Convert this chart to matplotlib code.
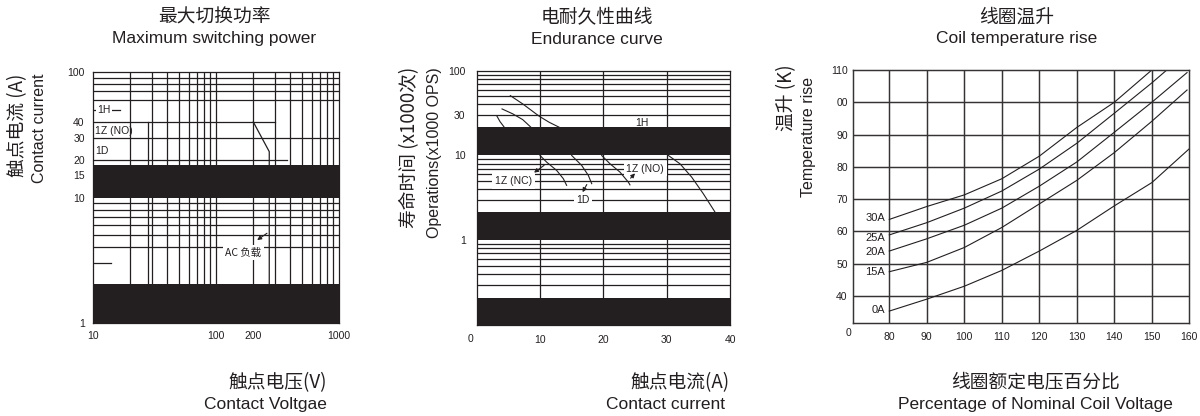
import matplotlib
matplotlib.use('Agg')
import matplotlib.pyplot as plt
from matplotlib.ticker import NullLocator

INK = '#231f20'
ZH = ['Noto Sans CJK SC', 'Liberation Sans', 'DejaVu Sans']
EN = ['Liberation Sans', 'DejaVu Sans']
plt.rcParams['font.family'] = EN

# ---- maximum switching power (log / log)
volt_ticks = [10, 100, 200, 1000]
amp_ticks = [1, 10, 15, 20, 30, 40, 100]
volt_grid = [20, 30, 40, 50, 60, 70, 80, 90, 100, 200, 300, 400, 500, 600, 700, 800, 900]
amp_grid = [4, 5, 6, 7, 8, 9, 30, 60, 70, 80, 90]
amp_bands = [(10, 18.2), (1, 2.05)]
h1_volt = [10, 16.5]
h1_amp = [50, 50]
z1_top_volt = [10, 300]
z1_top_amp = [40, 40]
z1_ac_volt = [201, 271, 271]
z1_ac_amp = [40, 23.2, 1]
z1_dc_volt = [28, 28]
z1_dc_amp = [40, 1]
d1_volt = [10, 380]
d1_amp = [20, 20]
stub_volt = [10, 14]
stub_amp = [3, 3]

# ---- endurance curve
ops_x_ticks = [10, 20, 30, 40]
ops_y_ticks = [1, 10, 30, 100]
ops_grid_x = [10, 20, 30]
ops_grid_y = [0.3, 0.4, 0.5, 0.6, 0.7, 0.8, 0.9,
              3, 4, 5, 6, 7, 8, 9,
              30, 40, 50, 60, 70, 80, 90]
ops_bands = [(10, 21.5), (1, 2.13), (0.1, 0.208)]
cur_a = [5.31, 7.26, 9.88, 11.46, 13.04]
ops_a = [50.8, 40.6, 29.0, 24.6, 21.5]
cur_b = [4.0, 5.68, 7.26, 8.57]
ops_b = [35.4, 31.0, 26.5, 21.5]
cur_c = [3.21, 3.68, 4.36]
ops_c = [29.0, 25.1, 21.5]
cur_d = [10.0, 11.05, 12.63, 13.68, 14.2]
ops_d = [10, 8.34, 6.66, 5.32, 4.44]
cur_e = [15.0, 16.58, 17.63, 18.16]
ops_e = [10, 7.63, 5.82, 4.65]
cur_f = [19.74, 21.05, 22.63, 23.94, 24.2]
ops_f = [10, 7.98, 6.36, 4.85, 4.5]
cur_g = [30.26, 32.1, 33.95, 35.78, 37.63]
ops_g = [10, 7.98, 5.55, 3.54, 2.15]

# ---- coil temperature rise
pct_ticks = [80, 90, 100, 110, 120, 130, 140, 150, 160]
rise_ticks = [40, 50, 60, 70, 80, 90, 100, 110]
rise_labels = ['40', '50', '60', '70', '80', '90', '00', '110']
pct_30a = [80, 90, 100, 110, 120, 130, 140, 150]
rise_30a = [63.7, 67.7, 71.3, 76.3, 83.3, 92.2, 100.0, 110.0]
pct_25a = [80, 90, 100, 110, 120, 130, 140, 150, 154]
rise_25a = [58.9, 62.7, 67.2, 72.5, 79.3, 87.3, 96.6, 106.0, 110.0]
pct_20a = [80, 90, 100, 110, 120, 130, 140, 150, 159.4]
rise_20a = [53.9, 57.7, 61.9, 67.2, 74.0, 81.5, 90.7, 100.0, 109.2]
pct_15a = [80, 90, 100, 110, 120, 130, 140, 150, 159.4]
rise_15a = [47.5, 50.4, 55.0, 61.2, 68.5, 75.8, 84.4, 94.1, 103.8]
pct_0a = [80, 90, 100, 110, 120, 130, 140, 150, 160]
rise_0a = [35.3, 39.0, 43.0, 47.9, 53.9, 60.3, 67.9, 75.1, 85.6]
load_names = ['30A', '25A', '20A', '15A', '0A']
load_label_y = [64.0, 58.0, 53.7, 47.5, 35.6]

W, H = 1200, 416
fig = plt.figure(figsize=(12, 4.16), dpi=100)


def px_axes(left, top, right, bottom):
    return fig.add_axes([left / W, 1 - bottom / H, (right - left) / W, (bottom - top) / H])


def ftext(x, y, s, **kw):
    fig.text(x / W, 1 - y / H, s, color=INK, **kw)


lw = 0.9

# ================= panel 1
ax1 = px_axes(93, 72, 339, 323)
ax1.set_xscale('log')
ax1.set_yscale('log')
ax1.set_xlim(10, 1000)
ax1.set_ylim(1, 100)
for v in volt_grid:
    ax1.axvline(v, color=INK, lw=lw, zorder=1)
for a in amp_grid:
    ax1.axhline(a, color=INK, lw=lw, zorder=1)
for lo, hi in amp_bands:
    ax1.axhspan(lo, hi, color=INK, lw=0, zorder=3)
ax1.plot(h1_volt, h1_amp, color=INK, lw=lw, zorder=2)
ax1.plot(z1_top_volt, z1_top_amp, color=INK, lw=lw, zorder=2)
ax1.plot(z1_ac_volt, z1_ac_amp, color=INK, lw=lw, zorder=2)
ax1.plot(z1_dc_volt, z1_dc_amp, color=INK, lw=lw, zorder=2)
ax1.plot(d1_volt, d1_amp, color=INK, lw=lw, zorder=2)
ax1.plot(stub_volt, stub_amp, color=INK, lw=lw, zorder=2)
ax1.text(12.3, 50, '1H', fontsize=7.5, color=INK, ha='center', va='center', zorder=4,
         bbox=dict(boxstyle='square,pad=0.15', fc='white', ec='none'))
ax1.text(14.8, 33.9, '1Z (NO)', fontsize=7.5, color=INK, ha='center', va='center', zorder=4)
ax1.text(11.9, 23.6, '1D', fontsize=7.5, color=INK, ha='center', va='center', zorder=4)
ax1.text(167, 3.63, 'AC 负载', fontsize=7.5, color=INK, ha='center', va='center', zorder=4,
         family=ZH, bbox=dict(boxstyle='square,pad=0.25', fc='white', ec='none'))
ax1.annotate('', xy=(207, 4.45), xytext=(271, 5.34), zorder=4,
             arrowprops=dict(arrowstyle='-|>', color=INK, lw=0.8, mutation_scale=6))
ax1.set_xticks(volt_ticks)
ax1.set_xticklabels([str(v) for v in volt_ticks])
ax1.set_yticks(amp_ticks)
ax1.set_yticklabels([str(a) for a in amp_ticks])
ax1.xaxis.set_minor_locator(NullLocator())
ax1.yaxis.set_minor_locator(NullLocator())
ax1.tick_params(length=0, labelsize=7.5, colors=INK)
ax1.tick_params(axis='x', pad=6)
ax1.tick_params(axis='y', pad=6)
for s in ax1.spines.values():
    s.set_color(INK)
    s.set_linewidth(lw)

# ================= panel 2
ax2 = px_axes(476.7, 70.7, 730, 325)
ax2.set_yscale('log')
ax2.set_xlim(0, 40)
ax2.set_ylim(0.1, 100)
for v in ops_grid_x:
    ax2.axvline(v, color=INK, lw=lw, zorder=1)
for o in ops_grid_y:
    ax2.axhline(o, color=INK, lw=lw, zorder=1)
for lo, hi in ops_bands:
    ax2.axhspan(lo, hi, color=INK, lw=0, zorder=3)
for cx, cy in [(cur_a, ops_a), (cur_b, ops_b), (cur_c, ops_c), (cur_d, ops_d),
               (cur_e, ops_e), (cur_f, ops_f), (cur_g, ops_g)]:
    ax2.plot(cx, cy, color=INK, lw=0.8, zorder=2)
box = dict(boxstyle='square,pad=0.25', fc='white', ec='none')
ax2.text(26.1, 24, '1H', fontsize=7.5, color=INK, ha='center', va='center', zorder=4)
ax2.text(5.8, 5.0, '1Z (NC)', fontsize=7.5, color=INK, ha='center', va='center', zorder=4, bbox=box)
ax2.text(16.8, 3.0, '1D', fontsize=7.5, color=INK, ha='center', va='center', zorder=4, bbox=box)
ax2.text(26.6, 7.0, '1Z (NO)', fontsize=7.5, color=INK, ha='center', va='center', zorder=4, bbox=box)
arw = dict(arrowstyle='-|>', color=INK, lw=0.8, mutation_scale=6)
ax2.annotate('', xy=(8.7, 6.0), xytext=(11.0, 8.0), arrowprops=arw, zorder=5)
ax2.annotate('', xy=(16.5, 3.45), xytext=(17.6, 4.85), arrowprops=arw, zorder=5)
ax2.annotate('', xy=(25.3, 6.5), xytext=(24.0, 5.1), arrowprops=arw, zorder=5)
ax2.set_xticks(ops_x_ticks)
ax2.set_xticklabels([str(v) for v in ops_x_ticks])
ax2.set_yticks(ops_y_ticks)
ax2.set_yticklabels([str(v) for v in ops_y_ticks])
ax2.yaxis.set_minor_locator(NullLocator())
ax2.tick_params(length=0, labelsize=7.5, colors=INK)
ax2.tick_params(axis='x', pad=7)
ax2.tick_params(axis='y', pad=8)
for s in ax2.spines.values():
    s.set_color(INK)
    s.set_linewidth(lw)
ftext(470, 339, '0', fontsize=7.5, ha='center', va='center')

# ================= panel 3
GRID3 = '#353333'
ax3 = px_axes(853.3, 70, 1189.3, 322.7)
ax3.set_xlim(70.4, 160)
ax3.set_ylim(31.7, 110)
for v in pct_ticks[:-1]:
    ax3.axvline(v, color=GRID3, lw=1.05, zorder=1)
for r in rise_ticks[:-1]:
    ax3.axhline(r, color=GRID3, lw=1.05, zorder=1)
for px, ry in [(pct_30a, rise_30a), (pct_25a, rise_25a), (pct_20a, rise_20a),
               (pct_15a, rise_15a), (pct_0a, rise_0a)]:
    ax3.plot(px, ry, color=INK, lw=0.8, zorder=2)
for name, yy in zip(load_names, load_label_y):
    ax3.text(78.9, yy, name, fontsize=8, color=INK, ha='right', va='center')
ax3.set_xticks(pct_ticks)
ax3.set_xticklabels([str(v) for v in pct_ticks])
ax3.set_yticks(rise_ticks)
ax3.set_yticklabels(rise_labels)
ax3.tick_params(length=0, labelsize=7.5, colors=INK)
ax3.tick_params(axis='x', pad=7)
ax3.tick_params(axis='y', pad=4)
for s in ax3.spines.values():
    s.set_color(GRID3)
    s.set_linewidth(1.05)
ftext(849, 333, '0', fontsize=7.5, ha='center', va='center')

# ================= titles and axis labels
titles = [(214, '最大切换功率', 'Maximum switching power'),
          (597, '电耐久性曲线', 'Endurance curve'),
          (1017, '线圈温升', 'Coil temperature rise')]
for cx, zh, en in titles:
    ftext(cx, 17.5, zh, fontsize=13.5, family=ZH, ha='center', va='center')
    ftext(cx, 43.5, en, fontsize=12.5, ha='center', va='baseline')

ftext(327, 383, '触点电压(V)', fontsize=13.5, family=ZH, ha='right', va='center')
ftext(327, 409, 'Contact Voltgae', fontsize=12.5, ha='right', va='baseline')
ftext(730, 383, '触点电流(A)', fontsize=13.5, family=ZH, ha='right', va='center')
ftext(725, 409, 'Contact current', fontsize=12.5, ha='right', va='baseline')
ftext(1036, 383, '线圈额定电压百分比', fontsize=13.5, family=ZH, ha='center', va='center')
ftext(1035, 409, 'Percentage of Nominal Coil Voltage', fontsize=12.5, ha='center', va='baseline')

ftext(18, 125, '触点电流 (A)', fontsize=13.5, family=ZH, rotation=90, ha='center', va='center')
ftext(40, 128, 'Contact current', fontsize=11.5, rotation=90, ha='center', va='center')
ftext(410, 147, '寿命时间 (x1000次)', fontsize=13.5, family=ZH, rotation=90, ha='center', va='center')
ftext(434, 153, 'Operations(x1000 OPS)', fontsize=11.5, rotation=90, ha='center', va='center')
ftext(787, 98, '温升 (K)', fontsize=13.5, family=ZH, rotation=90, ha='center', va='center')
ftext(808, 137, 'Temperature rise', fontsize=11.5, rotation=90, ha='center', va='center')

fig.savefig('out.png', dpi=100)
